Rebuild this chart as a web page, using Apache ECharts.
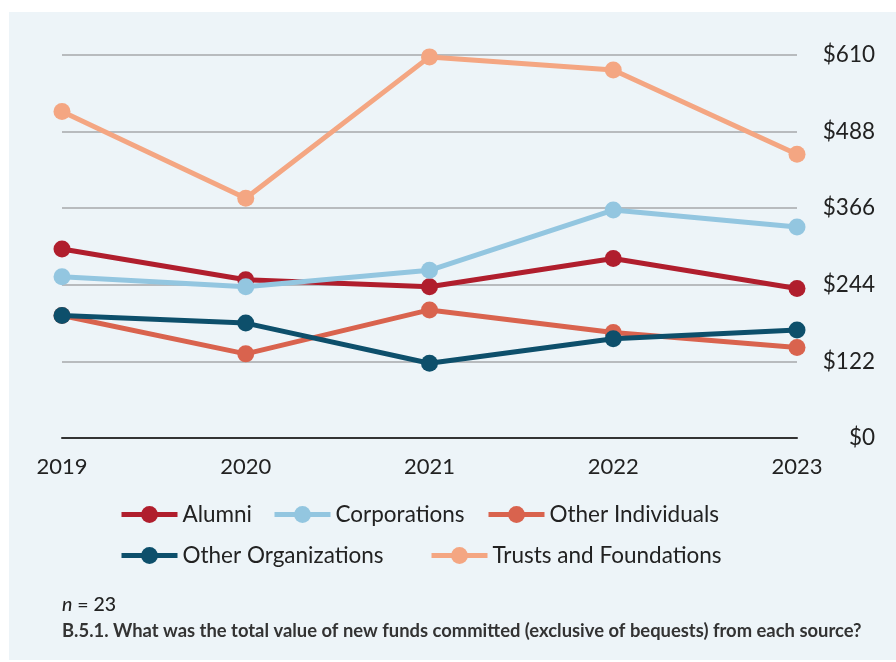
<!DOCTYPE html>
<html>
<head>
<meta charset="utf-8">
<script src="https://cdn.jsdelivr.net/npm/echarts@6/dist/echarts.min.js"></script>
<style>
html,body{margin:0;padding:0;background:#ffffff;}
#panel{position:absolute;left:9px;top:12px;width:887px;height:648px;background:#EDF4F8;}
#chart{position:absolute;left:0;top:0;width:896px;height:662px;}
</style>
</head>
<body>
<div id="panel"></div>
<div id="chart"></div>
<script>
const years = ['2019', '2020', '2021', '2022', '2023'];
const yTicks = [0, 122, 244, 366, 488, 610];
const alumni = [301, 252, 241, 286, 238];
const corporations = [257, 241, 267, 363, 336];
const otherIndividuals = [195, 134, 204, 168, 144];
const otherOrganizations = [195, 183, 119, 158, 172];
const trustsFoundations = [520, 382, 607, 586, 452];

const seriesNames = ['Alumni', 'Corporations', 'Other Individuals', 'Other Organizations', 'Trusts and Foundations'];
const seriesData = [alumni, corporations, otherIndividuals, otherOrganizations, trustsFoundations];
const colors = ['#B01E2D', '#93C6E0', '#D9634E', '#0D4F6B', '#F4A682'];

const FONT = 'Lato, "Open Sans", sans-serif';
const chart = echarts.init(document.getElementById('chart'), null, {renderer: 'canvas'});

const legendSpots = [[119, 503], [272, 503], [486, 503], [119, 544], [429, 544]];
const legends = seriesNames.map(function (name, i) {
  return {
    data: [name],
    left: legendSpots[i][0],
    top: legendSpots[i][1],
    padding: 0,
    itemWidth: 56,
    itemHeight: 21,
    itemGap: 0,
    lineStyle: {width: 5},
    textStyle: {fontFamily: FONT, fontSize: 22.5, color: '#222222', padding: [0, 0, 0, 0]},
    selectedMode: false
  };
});

chart.setOption({
  backgroundColor: 'transparent',
  animation: false,
  color: colors,
  grid: {left: 62, right: 99, top: 55, bottom: 224, containLabel: false},
  legend: legends,
  xAxis: {
    type: 'category',
    data: years,
    boundaryGap: false,
    axisLine: {show: true, lineStyle: {color: '#333333', width: 2}},
    axisTick: {show: false},
    axisLabel: {fontFamily: FONT, fontSize: 22, color: '#222222', margin: 18,
      interval: 0}
  },
  yAxis: {
    type: 'value',
    position: 'right',
    min: 0,
    max: 610,
    interval: 122,
    axisLine: {show: false},
    axisTick: {show: false},
    splitLine: {show: true, lineStyle: {color: '#A6A8AB', width: 1.5}},
    axisLabel: {
      fontFamily: FONT, fontSize: 22.5, color: '#222222', align: 'right', margin: 78,
      formatter: function (v) { return yTicks.indexOf(v) >= 0 ? '$' + v : ''; }
    }
  },
  series: seriesNames.map(function (name, i) {
    return {
      name: name,
      type: 'line',
      data: seriesData[i],
      symbol: 'circle',
      symbolSize: 17,
      lineStyle: {width: 5, color: colors[i]},
      itemStyle: {color: colors[i]},
      z: 2 + i
    };
  }),
  graphic: [
    {
      type: 'text', left: 62, top: 595,
      style: {
        text: '{i|n} = 23',
        rich: {i: {fontFamily: FONT, fontStyle: 'italic', fontWeight: 500, fontSize: 19.5, fill: '#222222'}},
        fontFamily: FONT, fontSize: 19.5, fontWeight: 500, fill: '#222222'
      }
    },
    {
      type: 'text', left: 62, top: 622,
      style: {
        text: 'B.5.1. What was the total value of new funds committed (exclusive of bequests) from each source?',
        fontFamily: FONT, fontSize: 18.4, fontWeight: 'bold', fill: '#333333'
      }
    }
  ]
});
</script>
</body>
</html>
